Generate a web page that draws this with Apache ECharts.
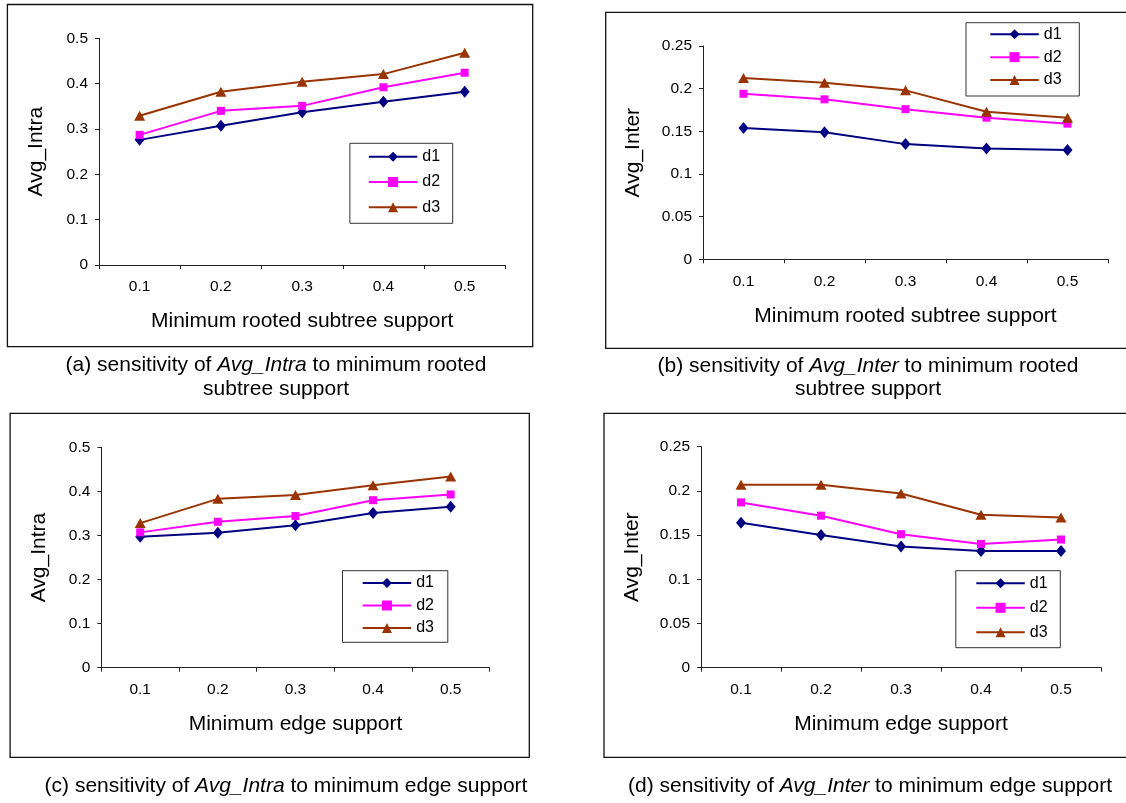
<!DOCTYPE html>
<html><head><meta charset="utf-8">
<script src="https://cdn.jsdelivr.net/npm/echarts@6/dist/echarts.min.js"></script>
<style>html,body{margin:0;padding:0;background:#fff}#c{width:1126px;height:803px}</style>
</head><body><div id="c"></div>
<script>
// ---------- data ----------
const categories = ['0.1', '0.2', '0.3', '0.4', '0.5'];
const seriesNames = ['d1', 'd2', 'd3'];

// (a) Avg_Intra vs minimum rooted subtree support
const a_d1 = [0.276, 0.307, 0.337, 0.360, 0.382];
const a_d2 = [0.287, 0.340, 0.351, 0.392, 0.424];
const a_d3 = [0.329, 0.382, 0.404, 0.421, 0.468];
// (b) Avg_Inter vs minimum rooted subtree support
const b_d1 = [0.154, 0.149, 0.135, 0.130, 0.128];
const b_d2 = [0.194, 0.1875, 0.176, 0.166, 0.159];
const b_d3 = [0.2125, 0.207, 0.198, 0.173, 0.166];
// (c) Avg_Intra vs minimum edge support
const c_d1 = [0.297, 0.306, 0.323, 0.351, 0.365];
const c_d2 = [0.307, 0.331, 0.344, 0.380, 0.393];
const c_d3 = [0.328, 0.383, 0.392, 0.414, 0.434];
// (d) Avg_Inter vs minimum edge support
const d_d1 = [0.164, 0.150, 0.137, 0.132, 0.132];
const d_d2 = [0.187, 0.172, 0.151, 0.140, 0.145];
const d_d3 = [0.207, 0.207, 0.197, 0.173, 0.170];

const intraTicks = [0, 0.1, 0.2, 0.3, 0.4, 0.5];
const interTicks = [0, 0.05, 0.1, 0.15, 0.2, 0.25];

const yNames = ['Avg_Intra', 'Avg_Inter', 'Avg_Intra', 'Avg_Inter'];
const xNames = ['Minimum rooted subtree support', 'Minimum rooted subtree support',
                'Minimum edge support', 'Minimum edge support'];
const captionsLine1 = [
  ['(a) sensitivity of ', 'Avg_Intra', ' to minimum rooted'],
  ['(b) sensitivity of ', 'Avg_Inter', ' to minimum rooted'],
  ['(c) sensitivity of ', 'Avg_Intra', ' to minimum edge support'],
  ['(d) sensitivity of ', 'Avg_Inter', ' to minimum edge support']
];
const captionsLine2 = ['subtree support', 'subtree support', '', ''];

// ---------- styling / layout ----------
const FONT = "'Liberation Sans', Arial, sans-serif";
const colors = ['#000080', '#FF00FF', '#993300'];
const symbols = ['diamond', 'rect', 'triangle'];
const symbolSizes = [[10, 12], 8, [11, 10]];

const panels = [
  { data: [a_d1, a_d2, a_d3], ticks: intraTicks,
    grid: { left: 99, top: 38.3, width: 406.3, height: 226.7 }, yGap: 52,
    legend: { left: 349.9, top: 143.3, padding: [5.4, 12.6, 8, 17.9], itemGap: 9.3 },
    box: [7.4, 4.5, 532.7, 346.7], cap: { x: 276, y1: 365, y2: 389 } },
  { data: [b_d1, b_d2, b_d3], ticks: interTicks,
    grid: { left: 703, top: 46, width: 405, height: 213.3 }, yGap: 59,
    legend: { left: 966, top: 22.7, padding: [3.6, 17.7, 8, 23.3], itemGap: 6.85 },
    box: [605.7, 12.3, 1140, 348.3], cap: { x: 868, y1: 366, y2: 389 } },
  { data: [c_d1, c_d2, c_d3], ticks: intraTicks,
    grid: { left: 101.4, top: 447.3, width: 388.1, height: 220.4 }, yGap: 52,
    legend: { left: 342.5, top: 570.7, padding: [4.3, 13.8, 6.3, 19.2], itemGap: 6.5 },
    box: [10.1, 413.3, 529.3, 757.3], cap: { x: 286, y1: 786, y2: 810 } },
  { data: [d_d1, d_d2, d_d3], ticks: interTicks,
    grid: { left: 701, top: 446.7, width: 400, height: 221 }, yGap: 58,
    legend: { left: 955.8, top: 570.7, padding: [4.6, 12.7, 7.4, 19.5], itemGap: 8.5 },
    box: [604, 413.3, 1140, 757.3], cap: { x: 870, y1: 786, y2: 810 } }
];

const axisLineStyle = { color: '#222', width: 1 };
const grids = [], xAxes = [], yAxes = [], series = [], legends = [], graphics = [];

panels.forEach((p, i) => {
  grids.push(Object.assign({ outerBoundsMode: 'none', containLabel: false }, p.grid));
  xAxes.push({
    type: 'category', gridIndex: i, data: categories, boundaryGap: true,
    name: xNames[i], nameLocation: 'middle', nameGap: 46,
    nameTextStyle: { fontFamily: FONT, fontSize: 21, color: '#000' },
    axisLine: { show: true, lineStyle: axisLineStyle },
    axisTick: { show: true, length: 4, inside: false, lineStyle: axisLineStyle },
    axisLabel: { fontFamily: FONT, fontSize: 15.5, color: '#000', margin: 14 },
    splitLine: { show: false }
  });
  const t = p.ticks;
  yAxes.push({
    type: 'value', gridIndex: i, min: t[0], max: t[t.length - 1], interval: t[1] - t[0],
    name: yNames[i], nameLocation: 'middle', nameGap: p.yGap,
    nameTextStyle: { fontFamily: FONT, fontSize: 21, color: '#000' },
    axisLine: { show: true, lineStyle: axisLineStyle },
    axisTick: { show: true, length: 4, inside: false, lineStyle: axisLineStyle },
    axisLabel: { fontFamily: FONT, fontSize: 15.5, color: '#000', margin: 11 },
    splitLine: { show: false }
  });
  p.data.forEach((vals, k) => {
    series.push({
      type: 'line', name: seriesNames[k], xAxisIndex: i, yAxisIndex: i, data: vals,
      symbol: symbols[k], symbolSize: symbolSizes[k], showAllSymbol: true,
      lineStyle: { color: colors[k], width: 2 },
      itemStyle: { color: colors[k], borderWidth: 0 },
      emphasis: { disabled: true }, z: 3 + k
    });
  });
  legends.push(Object.assign({
    data: seriesNames, orient: 'vertical',
    itemWidth: 48.5, itemHeight: 12.5,
    borderColor: '#333', borderWidth: 1, backgroundColor: '#fff',
    textStyle: { fontFamily: FONT, fontSize: 16, color: '#000' },
    selectedMode: false
  }, p.legend));
  const b = p.box;
  graphics.push({
    type: 'rect', z: -10, silent: true,
    shape: { x: b[0], y: b[1], width: b[2] - b[0], height: b[3] - b[1] },
    style: { fill: 'none', stroke: '#111', lineWidth: 1.3 }
  });
  const c1 = captionsLine1[i];
  graphics.push({
    type: 'text', silent: true, x: p.cap.x, y: p.cap.y1,
    style: {
      text: '{n|' + c1[0] + '}{i|' + c1[1] + '}{n|' + c1[2] + '}',
      align: 'center', verticalAlign: 'middle',
      fontFamily: FONT, fontSize: 21, fill: '#000',
      rich: {
        n: { fontFamily: FONT, fontSize: 21, fill: '#000', color: '#000' },
        i: { fontFamily: FONT, fontSize: 21, fontStyle: 'italic', fill: '#000', color: '#000' }
      }
    }
  });
  if (captionsLine2[i]) {
    graphics.push({
      type: 'text', silent: true, x: p.cap.x, y: p.cap.y2,
      style: { text: captionsLine2[i], align: 'center', verticalAlign: 'middle',
               fontFamily: FONT, fontSize: 21, fill: '#000' }
    });
  }
});

const chart = echarts.init(document.getElementById('c'), null, { renderer: 'canvas' });
chart.setOption({
  animation: false,
  backgroundColor: '#fff',
  grid: grids, xAxis: xAxes, yAxis: yAxes, series: series,
  legend: legends, graphic: graphics,
  tooltip: { show: false }
});
</script></body></html>
